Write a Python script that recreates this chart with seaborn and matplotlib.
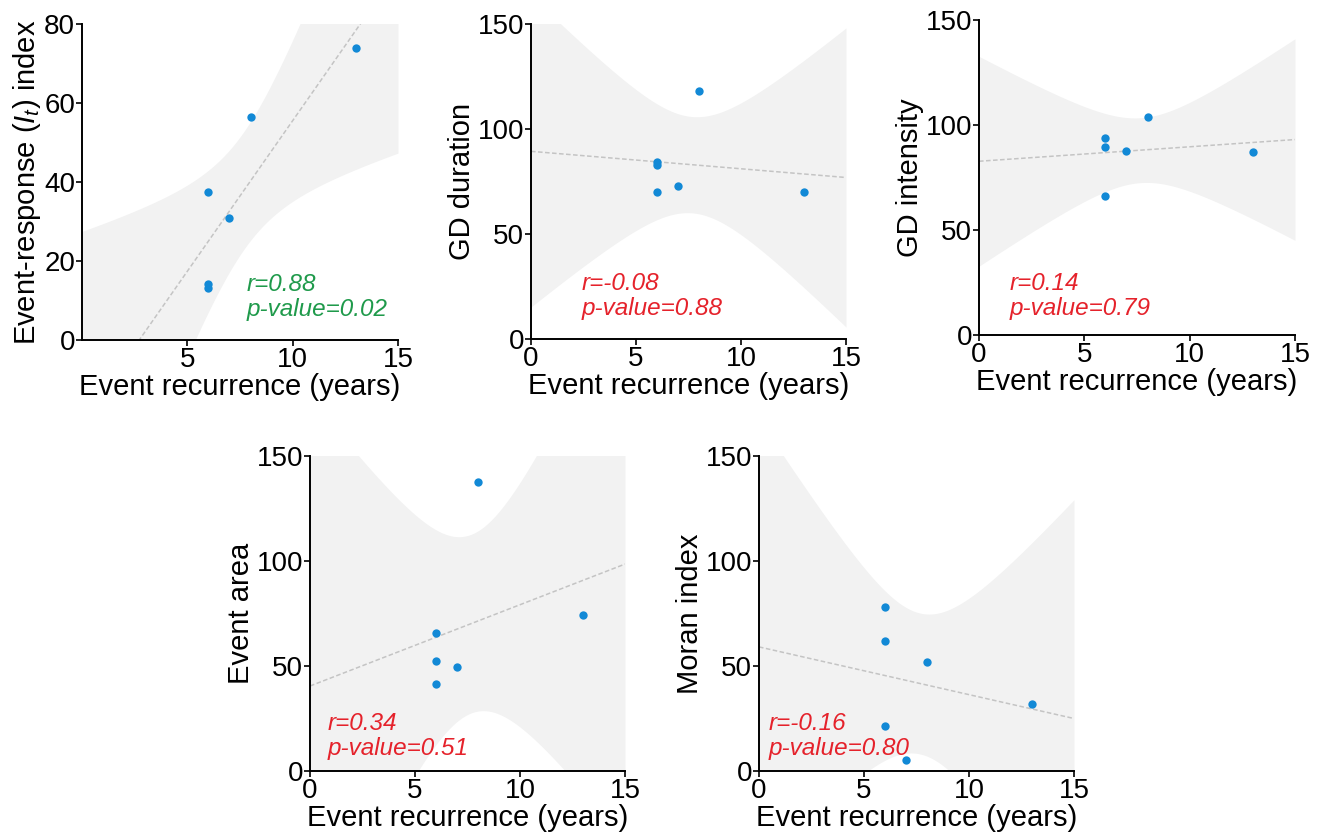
import numpy as np
import pandas as pd
import matplotlib
matplotlib.use('Agg')
import matplotlib.pyplot as plt
import seaborn as sns

sns.set_style('white')
plt.rcParams['font.family'] = ['Liberation Sans', 'DejaVu Sans']
plt.rcParams['mathtext.fontset'] = 'custom'
plt.rcParams['mathtext.rm'] = 'Liberation Sans'
plt.rcParams['mathtext.it'] = 'Liberation Sans:italic'
plt.rcParams['text.color'] = 'black'
plt.rcParams['axes.labelcolor'] = 'black'
plt.rcParams['xtick.color'] = 'black'
plt.rcParams['ytick.color'] = 'black'

# recurrence (years) shared by all panels
recurrence = [6, 6, 6, 7, 8, 13]

# panel values
response_index = [37.4, 14.3, 13.2, 31.0, 56.5, 74.0]
gd_duration = [84.1, 82.9, 70.0, 73.0, 118.0, 70.0]
gd_intensity = [93.7, 89.4, 66.3, 87.5, 104.0, 87.2]
event_area = [65.6, 52.3, 41.2, 49.6, 137.8, 74.4]
moran_index = [78.3, 61.8, 21.2, 5.1, 51.7, 31.9]

ylabels = [r'Event-response ($I_t$) index', 'GD duration', 'GD intensity',
           'Event area', 'Moran index']
r_text = ['r=0.88', 'r=-0.08', 'r=0.14', 'r=0.34', 'r=-0.16']
p_text = ['p-value=0.02', 'p-value=0.88', 'p-value=0.79', 'p-value=0.51', 'p-value=0.80']
text_colors = ['#1f9a4b', '#e5222b', '#e5222b', '#e5222b', '#e5222b']
ymax = [80, 150, 150, 150, 150]
yticks = [[0, 20, 40, 60, 80], [0, 50, 100, 150], [0, 50, 100, 150],
          [0, 50, 100, 150], [0, 50, 100, 150]]
xticks = [[5, 10, 15], [0, 5, 10, 15], [0, 5, 10, 15], [0, 5, 10, 15], [0, 5, 10, 15]]

series = [response_index, gd_duration, gd_intensity, event_area, moran_index]

# axes boxes in pixels: left, top, right, bottom
W, H = 1320, 834
boxes = [(82, 24, 398, 340), (531, 24, 846, 339), (979, 20, 1295, 335),
         (310, 456, 625, 771), (759, 456, 1074, 771)]
text_x = [7.8, 2.4, 1.45, 0.85, 0.45]
text_y = [0.06, 0.06, 0.048, 0.036, 0.036]

T_95_DF4 = 2.776  # t quantile for n-2 = 4 dof

fig = plt.figure(figsize=(13.2, 8.34), dpi=100)

for i, yvals in enumerate(series):
    l, t, r, b = boxes[i]
    ax = fig.add_axes([l / W, 1 - b / H, (r - l) / W, (b - t) / H])
    ax.set_xlim(0, 15)
    ax.set_ylim(0, ymax[i])

    df = pd.DataFrame({'x': recurrence, 'y': yvals})

    # analytic 95% confidence band of the OLS fit
    x = np.asarray(recurrence, float)
    y = np.asarray(yvals, float)
    slope, icpt = np.polyfit(x, y, 1)
    resid = y - (icpt + slope * x)
    s = np.sqrt((resid ** 2).sum() / (len(x) - 2))
    sxx = ((x - x.mean()) ** 2).sum()
    grid = np.linspace(0, 15, 300)
    fit = icpt + slope * grid
    half = T_95_DF4 * s * np.sqrt(1 / len(x) + (grid - x.mean()) ** 2 / sxx)
    ax.fill_between(grid, fit - half, fit + half, color='#f2f2f2', lw=0, zorder=0)

    sns.regplot(data=df, x='x', y='y', ax=ax, ci=None, truncate=False,
                scatter_kws={'s': 36, 'color': '#1289d6', 'alpha': 1,
                             'linewidths': 0, 'zorder': 3},
                line_kws={'color': '#c4c4c4', 'lw': 1.1, 'ls': (0, (3, 1.6)), 'zorder': 2})
    ax.set_xlim(0, 15)
    ax.set_ylim(0, ymax[i])

    ax.set_xticks(xticks[i])
    ax.set_yticks(yticks[i])
    ax.tick_params(axis='both', labelsize=20, length=4, width=1.2, color='black',
                   direction='out', pad=1, left=True, bottom=True)
    for side in ['top', 'right']:
        ax.spines[side].set_visible(False)
    for side in ['left', 'bottom']:
        ax.spines[side].set_color('black')
        ax.spines[side].set_linewidth(1.4)

    ax.set_xlabel('Event recurrence (years)', fontsize=21, labelpad=0)
    ax.set_ylabel(ylabels[i], fontsize=21, labelpad=1)

    ax.text(text_x[i], text_y[i], r_text[i] + '\n' + p_text[i],
            transform=ax.get_xaxis_transform(), fontsize=17.5, style='italic',
            color=text_colors[i], va='bottom', ha='left', linespacing=1.1)

fig.savefig('out.png', dpi=100)
